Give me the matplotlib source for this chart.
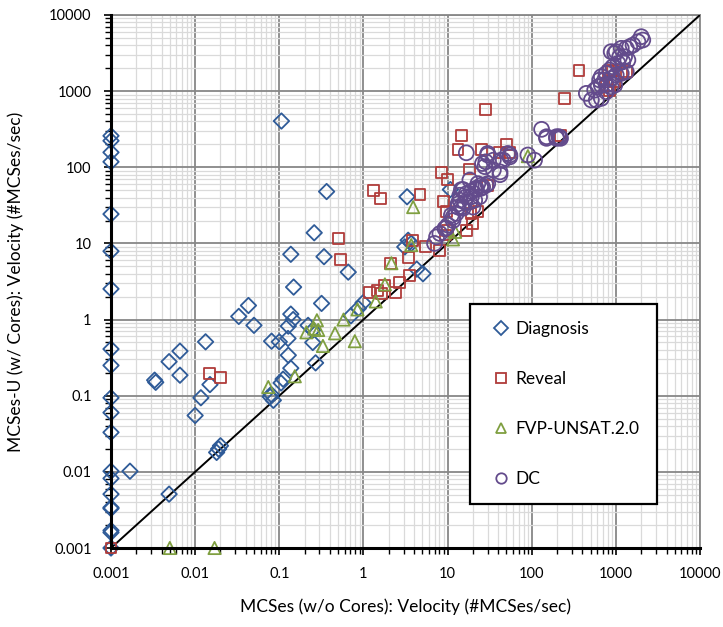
import matplotlib
matplotlib.use("Agg")
import matplotlib.pyplot as plt
from matplotlib.ticker import LogLocator, FixedLocator, FixedFormatter, NullFormatter

plt.rcParams['font.family'] = ['Lato', 'DejaVu Sans']

# ---------------- data ----------------
diag_x = [0.001]*20 + [
    0.00168, 0.0049, 0.0033, 0.0034, 0.0049, 0.0066, 0.0066, 0.0133, 0.015, 0.0117,
    0.010, 0.018, 0.019, 0.020, 0.033, 0.043, 0.050,
    0.106, 0.365, 0.26, 0.137, 0.34, 0.66, 0.148, 0.318, 0.137, 0.146, 0.128, 0.100,
    0.081, 0.127, 0.128, 0.137, 0.111, 0.105, 0.080, 0.078, 0.085, 0.22, 0.25, 0.25,
    0.27, 0.71, 0.99, 0.87,
    3.3, 10.8, 3.4, 3.7, 3.1, 4.3, 5.1]
diag_y = [259, 223, 157, 118, 24.3, 7.9, 2.53, 0.41, 0.25, 0.094, 0.060, 0.033,
          0.0102, 0.0082, 0.0051, 0.0034, 0.0033, 0.0017, 0.0016, 0.001] + [
    0.0102, 0.0051, 0.16, 0.15, 0.28, 0.385, 0.186, 0.51, 0.14, 0.094,
    0.055, 0.018, 0.020, 0.022, 1.1, 1.53, 0.84,
    405, 48, 13.8, 7.2, 6.7, 4.2, 2.67, 1.63, 1.18, 1.0, 0.82, 0.51,
    0.52, 0.565, 0.34, 0.23, 0.165, 0.147, 0.104, 0.097, 0.087, 0.84, 0.73, 0.50,
    0.27, 1.12, 1.66, 1.4,
    41, 51, 11, 10, 9, 4.6, 4.0]

rev_x = [0.001, 0.015, 0.020, 0.51, 0.53, 1.17, 1.48, 1.33, 1.61, 1.66, 1.8, 2.4, 2.7,
         3.56, 3.46, 2.1, 3.8, 4.7, 5.4, 8.1, 8.9, 9.7, 8.5, 10.1, 9.9, 9.5, 17, 20,
         19, 23, 30, 18.4, 14.6, 13.3, 25.5, 50, 41, 55, 28, 220, 247, 365, 828, 920,
         1160, 1330, 770, 970, 843]
rev_y = [0.001, 0.196, 0.173, 11.7, 6.2, 2.24, 2.4, 49, 38.5, 2.2, 2.8, 2.24, 3.1,
         3.8, 6.5, 5.5, 11, 44.5, 9.0, 8.0, 35.6, 26, 85, 69, 14.6, 12.9, 14.6, 18.3,
         24.8, 26, 57, 95, 259, 170, 172, 198, 158, 155, 577, 263, 804, 1850, 1800, 1890,
         1710, 1800, 1200, 1330, 1030]

fvp_x = [0.005, 0.017, 0.074, 0.153, 0.21, 0.28, 0.29, 0.26, 0.33, 0.46, 0.58, 0.79,
         0.85, 1.4, 1.8, 2.15, 3.7, 3.9, 11.6, 12.3, 90]
fvp_y = [0.001, 0.001, 0.13, 0.18, 0.68, 0.98, 0.73, 0.76, 0.45, 0.66, 1.0, 0.52,
         1.36, 1.73, 2.9, 5.5, 9.5, 30, 11.3, 14.2, 140]

dc_x = [7.0, 7.4, 8.1, 9.3, 9.7, 10.1, 11.6, 11.6, 11.1, 12.7, 13.3, 13.3, 14.6, 15.3,
        14.0, 16.0, 18.4, 16.7, 19.2, 14.0, 16.7, 19.2, 15.3, 14.6, 21.8, 21.8, 25, 26.1,
        28.5, 25, 22.9, 30, 18.4, 20, 21, 24, 27.7, 26, 28.5, 35, 35, 42, 42, 43, 46, 30,
        30, 52, 55, 55, 16.7, 90, 108, 131, 150, 150, 197, 197, 210, 215, 220,
        2005, 2090, 1830, 1600, 1460, 1330, 1160, 1010, 970, 880, 1110, 1270, 1390, 1210,
        1060, 920, 843, 770, 672, 642, 736, 880, 1010, 1160, 1330, 770, 672, 614, 560,
        446, 512, 586, 672, 770, 880, 970]
dc_y = [10, 12.2, 13.5, 15.7, 16, 17.4, 20, 22, 23.5, 24.8, 30, 33, 30, 29,
        37, 35, 35, 41, 41, 43, 45, 48, 51, 51, 51, 53, 53, 55,
        58, 58, 61, 61, 68, 30, 37, 41, 102, 112, 118, 92, 124, 80, 87, 124, 124, 145,
        152, 152, 137, 145, 155, 145, 124, 315, 252, 240, 240, 252, 252, 248, 240,
        5190, 4690, 4460, 4030, 3830, 3650, 3650, 3300, 3140, 3300, 2830, 2830, 2560, 2430,
        2320, 2090, 1890, 1710, 1550, 1400, 1400, 1470, 1630, 1710, 1800, 1200, 1200, 1140, 1030,
        935, 764, 764, 804, 982, 1140, 1200]

series_names = ["Diagnosis", "Reveal", "FVP-UNSAT.2.0", "DC"]
tick_vals = [0.001, 0.01, 0.1, 1, 10, 100, 1000, 10000]
tick_labels = ["0.001", "0.01", "0.1", "1", "10", "100", "1000", "10000"]
x_label = "MCSes (w/o Cores): Velocity (#MCSes/sec)"
y_label = "MCSes-U (w/ Cores): Velocity (#MCSes/sec)"

# ---------------- figure ----------------
fig = plt.figure(figsize=(7.23, 6.27), dpi=100)
ax = fig.add_axes([111/723, 1-548/627, (700-111)/723, (548-15)/627])
ax.set_xscale('log')
ax.set_yscale('log')
ax.set_xlim(tick_vals[0], tick_vals[-1])
ax.set_ylim(tick_vals[0], tick_vals[-1])

ax.xaxis.set_major_locator(FixedLocator(tick_vals))
ax.yaxis.set_major_locator(FixedLocator(tick_vals))
ax.xaxis.set_major_formatter(FixedFormatter(tick_labels))
ax.yaxis.set_major_formatter(FixedFormatter(tick_labels))
ax.xaxis.set_minor_locator(LogLocator(base=10, subs=range(2, 10), numticks=20))
ax.yaxis.set_minor_locator(LogLocator(base=10, subs=range(2, 10), numticks=20))
ax.xaxis.set_minor_formatter(NullFormatter())
ax.yaxis.set_minor_formatter(NullFormatter())

ax.grid(which='minor', color='#dadada', lw=0.9, ls='-', zorder=0)
ax.grid(which='major', color='#878787', lw=1.3, ls='-', zorder=0)
ax.set_axisbelow(True)

ax.tick_params(which='major', direction='out', length=5, width=1.2, labelsize=10.5,
               pad=9, colors='black')
ax.tick_params(which='minor', direction='out', length=4, width=1.0)

for s in ['left', 'bottom']:
    ax.spines[s].set_color('black')
    ax.spines[s].set_linewidth(2.2)
    ax.spines[s].set_zorder(5)
for s in ['top', 'right']:
    ax.spines[s].set_color('#878787')
    ax.spines[s].set_linewidth(1.3)

ax.axline((tick_vals[0], tick_vals[0]), (tick_vals[-1], tick_vals[-1]),
          color='black', lw=1.4, zorder=3)

colors = ['#2f5b98', '#b03c3a', '#7f9f40', '#634b8c']
markers = ['D', 's', '^', 'o']
sizes = [62, 62, 78, 115]
data = [(diag_x, diag_y), (rev_x, rev_y), (fvp_x, fvp_y), (dc_x, dc_y)]
for (xs, ys), c, m, sz, name in zip(data, colors, markers, sizes, series_names):
    ax.scatter(xs, ys, s=sz, marker=m, facecolors='none', edgecolors=c,
               linewidths=1.3, clip_on=False, zorder=4, label=name)

ax.set_xlabel(x_label, fontsize=12.5, labelpad=12)
ax.set_ylabel(y_label, fontsize=12.5, labelpad=18)

leg_handles = [plt.Line2D([], [], linestyle='none', marker=m, markersize=7.5,
                          markerfacecolor='none', markeredgecolor=c, markeredgewidth=1.3)
               for m, c in zip(markers, colors)]
leg = ax.legend(leg_handles, series_names, loc='upper left',
                bbox_to_anchor=((470-111)/589, (548-304)/533),
                fontsize=12.5, frameon=True, fancybox=False, edgecolor='black',
                framealpha=1, labelspacing=1.95, handletextpad=0.0, handlelength=1.6,
                borderpad=1.0, borderaxespad=0)
leg.get_frame().set_linewidth(1.6)
leg.set_zorder(6)

fig.savefig('out.png', dpi=100)
